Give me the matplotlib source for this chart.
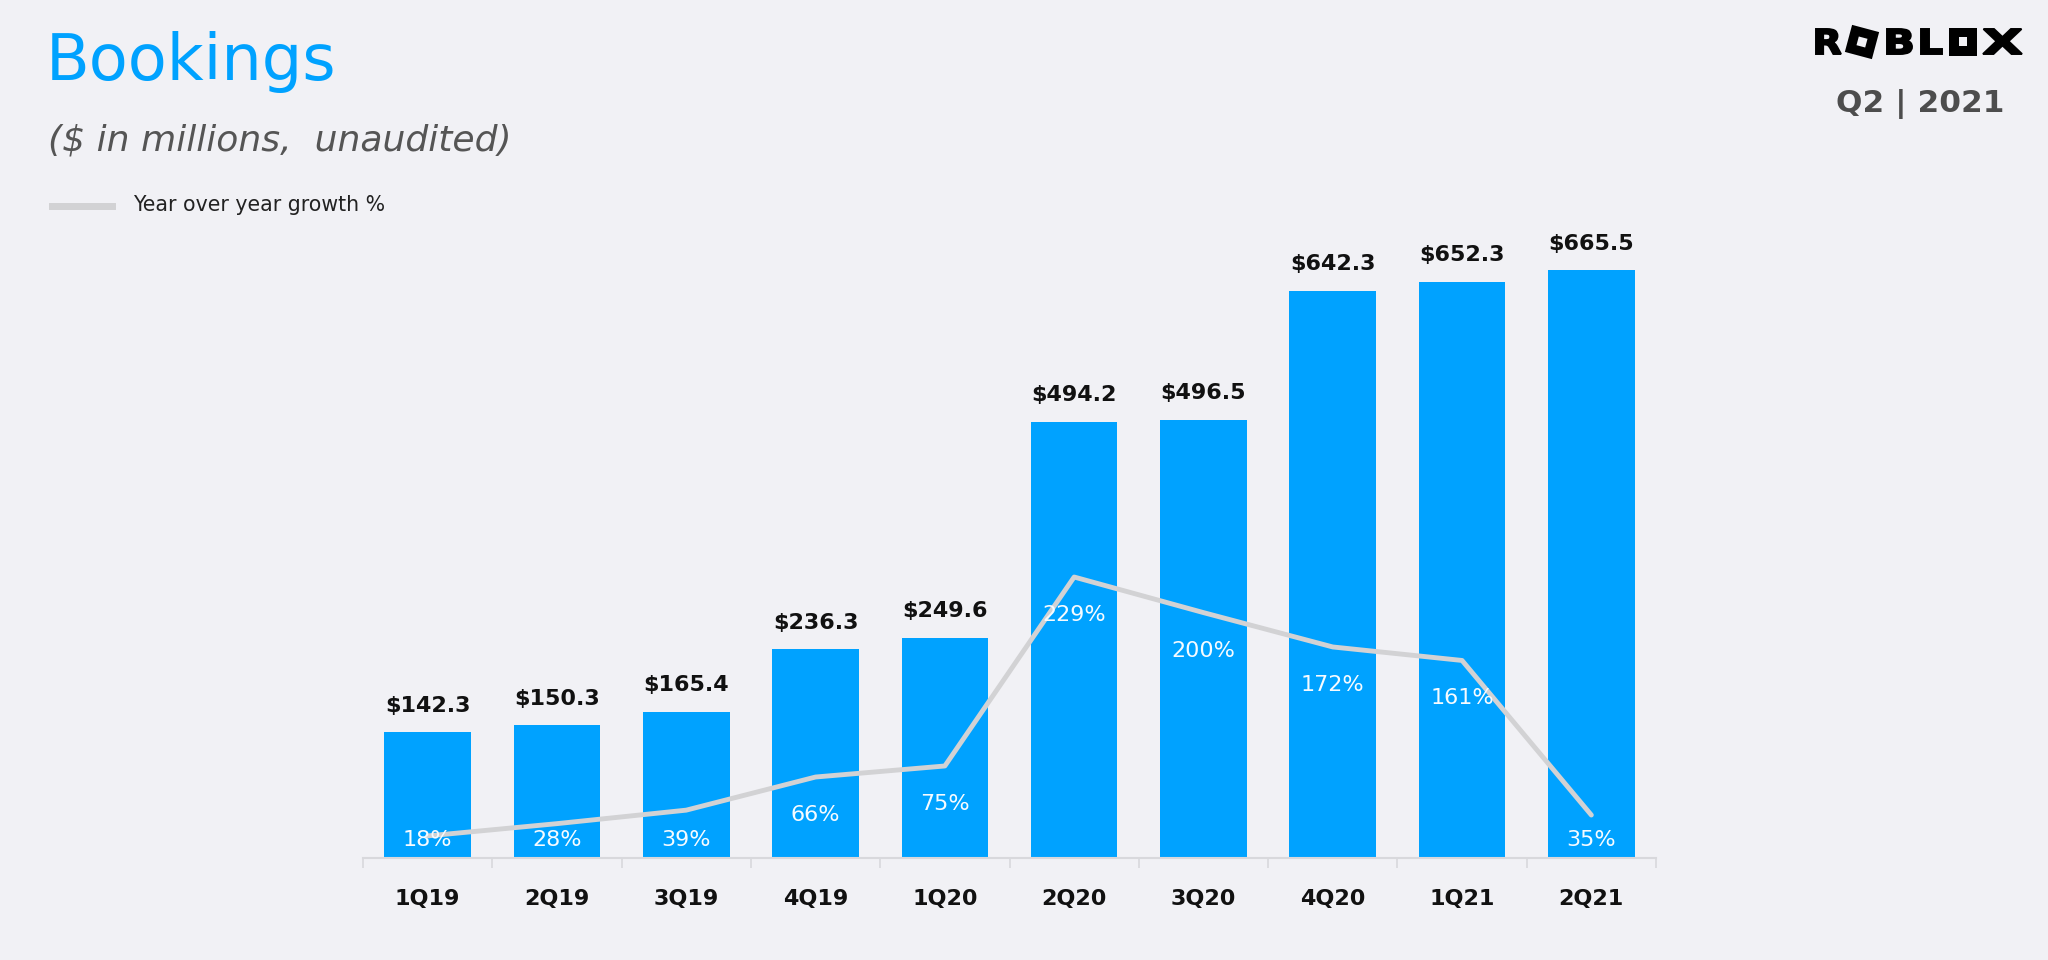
import numpy as np
import matplotlib as mpl
mpl.use('Agg')
import matplotlib.pyplot as plt
from matplotlib.lines import Line2D
from matplotlib.patches import Rectangle, PathPatch
from matplotlib.textpath import TextPath
from matplotlib.font_manager import FontProperties
from matplotlib.transforms import Affine2D

# data
quarters = ['1Q19', '2Q19', '3Q19', '4Q19', '1Q20', '2Q20', '3Q20', '4Q20', '1Q21', '2Q21']
bookings = [142.3, 150.3, 165.4, 236.3, 249.6, 494.2, 496.5, 642.3, 652.3, 665.5]
yoy_growth = [18, 28, 39, 66, 75, 229, 200, 172, 161, 35]

BLUE = '#00A2FF'
BG = '#F1F1F5'
LINE = '#D2D2D4'
AXIS = '#D8D8DC'

W, H = 2048, 960
DPI = 100

fig = plt.figure(figsize=(W / DPI, H / DPI), dpi=DPI, facecolor=BG)

# main axes: baseline at y=858px, x from 363px to 1656px
ax = fig.add_axes([363 / W, 1 - 858 / H, 1293 / W, 698 / H])
ax.set_facecolor(BG)
x = np.arange(len(quarters))
ax.bar(x, bookings, width=0.67, color=BLUE, zorder=2)
ax.set_xlim(-0.5, len(quarters) - 0.5)
ax.set_ylim(0, 698 / 0.883)

for xi, v in zip(x, bookings):
    ax.annotate(f'${v:.1f}', (xi, v), xytext=(0, 12), textcoords='offset points',
                ha='center', va='bottom', fontsize=16, fontweight='bold', color='#111111')

ax.set_xticks(x)
ax.set_xticklabels(quarters, fontsize=16, fontweight='bold', color='#111111')
ax.set_xticks(np.arange(len(quarters) + 1) - 0.5, minor=True)
ax.tick_params(axis='x', which='major', length=0, pad=22)
ax.tick_params(axis='x', which='minor', length=7, width=1.2, color=AXIS, direction='out')
ax.set_yticks([])
for s in ['top', 'right', 'left']:
    ax.spines[s].set_visible(False)
ax.spines['bottom'].set_color(AXIS)
ax.spines['bottom'].set_linewidth(1.5)

# growth line on a twin axis
ax2 = ax.twinx()
ax2.set_ylim(0, 698 / 1.227)
ax2.plot(x, yoy_growth, color=LINE, lw=3.5, solid_joinstyle='round',
         solid_capstyle='round', zorder=3)
ax2.set_yticks([])
for s in ['top', 'right', 'left', 'bottom']:
    ax2.spines[s].set_visible(False)
for xi, g in zip(x, yoy_growth):
    # labels sit ~31 points under the line, but never below the bar floor
    ax2.text(xi, max(g - 31, 15), f'{g}%', ha='center', va='center',
             fontsize=16, color='#F6FBFF', zorder=4)

# titles
fig.text(46 / W, 1 - 80 / H, 'Bookings', fontsize=46, color=BLUE, va='baseline')
fig.text(48 / W, 1 - 150 / H, '($ in millions,  unaudited)', fontsize=26,
         style='italic', color='#555555', va='baseline')

# legend
fig.add_artist(Line2D([52 / W, 112 / W], [1 - 206 / H, 1 - 206 / H], color=LINE,
                      lw=5, transform=fig.transFigure))
fig.text(133 / W, 1 - 205 / H, 'Year over year growth %', fontsize=14.8,
         color='#222222', va='center')

# logo, drawn in pixel space (y measured from top)
bold = FontProperties(family='DejaVu Sans', weight='bold')


def letter(ch, x0, x1, y0, y1):
    tp = TextPath((0, 0), ch, size=40, prop=bold)
    bb = tp.get_extents()
    tr = (Affine2D().translate(-bb.x0, -bb.y0)
          .scale((x1 - x0) / bb.width, (y1 - y0) / bb.height)
          .translate(x0, H - y1).scale(1 / DPI))
    fig.add_artist(PathPatch(tr.transform_path(tp), facecolor='black',
                             edgecolor='black', lw=1.4, transform=fig.dpi_scale_trans))


def square(cx, cy, side, hole, angle):
    for s, c in [(side, 'black'), (hole, BG)]:
        fig.add_artist(Rectangle(((cx - s / 2) / DPI, (H - cy - s / 2) / DPI), s / DPI, s / DPI,
                                 angle=angle, rotation_point='center', facecolor=c,
                                 edgecolor='none', transform=fig.dpi_scale_trans))


letter('R', 1816, 1841, 29, 54)
square(1862, 42, 28, 9, -15)
letter('B', 1887, 1912, 29, 54)
letter('L', 1921, 1942, 29, 54)
square(1963, 41.5, 28, 8, 0)
letter('X', 1983, 2022, 29, 54)

fig.text(1920 / W, 1 - 112 / H, 'Q2 | 2021', fontsize=22.5, fontweight='bold',
         color='#4D4D4D', ha='center', va='baseline')

fig.savefig('out.png', dpi=DPI, facecolor=BG)
